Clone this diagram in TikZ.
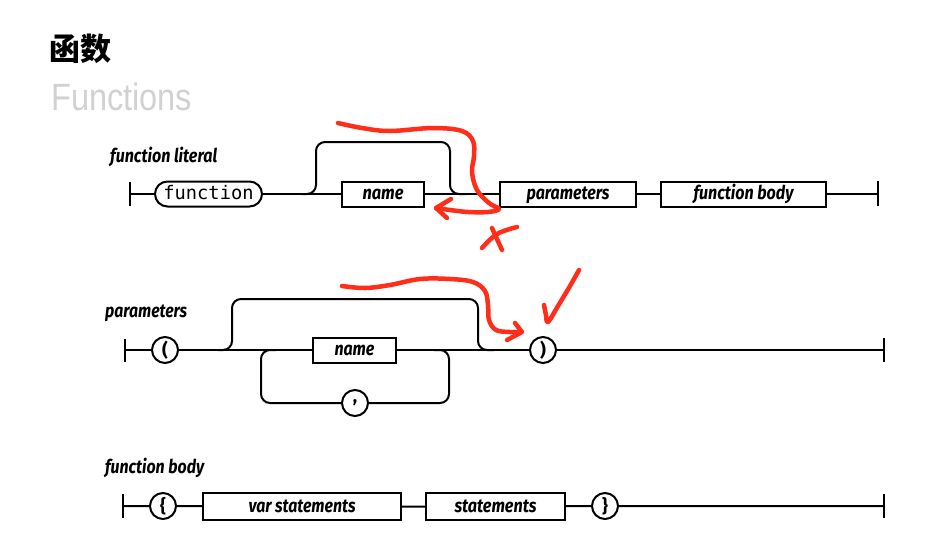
\documentclass[tikz,border=0pt]{standalone}
\usepackage{fontspec}
\usepackage{graphicx}
\setmainfont{Fira Sans}
\newfontfamily\cjkfont{Noto Sans CJK SC}
\newfontfamily\monofont{DejaVu Sans Mono}
\newfontfamily\lightfont{Liberation Sans}
\newcommand\fitw[2]{\resizebox{#1pt}{\height}{#2}}
\definecolor{annot}{RGB}{255,45,25}
\tikzset{
  rail/.style={line width=2pt, line join=round},
  nt/.style={draw, line width=2pt, rectangle, minimum height=25pt, inner sep=0pt,
     text height=14pt, text depth=3pt, font=\bfseries\itshape\fontsize{19}{19}\selectfont},
  kw/.style={draw, line width=2pt, rectangle, rounded corners=12.5pt, minimum height=25pt,
     inner sep=0pt, text height=13pt, text depth=3pt, font=\monofont\fontsize{18.7}{19}\selectfont},
  circ/.style={draw, circle, line width=2pt, minimum size=26pt, inner sep=0pt,
     font=\bfseries\fontsize{18}{18}\selectfont},
  lbl/.style={anchor=base west, inner sep=0pt, font=\bfseries\itshape\fontsize{19}{19}\selectfont},
  ink/.style={draw=annot, line width=4.5pt, line cap=round, line join=round}
}
\begin{document}
\begin{tikzpicture}[x=1pt,y=-1pt]
\useasboundingbox (0,0) rectangle (948,542);

% titles
\node[anchor=base west, inner sep=0pt, font=\cjkfont\bfseries\fontsize{31}{31}\selectfont] (t1) at (49,60) {函数};
\node[anchor=base west, inner sep=0pt, text=black!18, font=\lightfont\fontsize{38}{38}\selectfont] (t2) at (51,110) {\fitw{141}{Functions}};

% ---------- row 1: function literal ----------
\node[lbl] (l1) at (110,162) {\fitw{107}{function literal}};
\coordinate (b1) at (130,194);
\coordinate (e1) at (878,194);
\draw[rail] (130,182) -- (130,206);
\draw[rail] (878,181) -- (878,206);
\node[kw, minimum width=107pt] (fn) at (208.5,194) {function};
\node[nt, minimum width=82pt] (name1) at (383,194) {\fitw{41}{name}};
\node[nt, minimum width=136pt] (par1) at (568,194) {\fitw{83}{parameters}};
\node[nt, minimum width=165pt] (fb1) at (743.5,194) {\fitw{100}{function body}};
\draw[rail] (b1) -- (fn) -- (name1) -- (par1) -- (fb1) -- (e1);
\coordinate (s1) at (302,194);
\coordinate (u1) at (316,142);
\coordinate (v1) at (450,194);
\coordinate (w1) at (466,194);
\draw[rail, rounded corners=9pt] (s1) -| (u1) -| (v1) -- (w1);

% ---------- row 2: parameters ----------
\node[lbl] (l2) at (105,317) {\fitw{82}{parameters}};
\coordinate (b2) at (125,350);
\coordinate (e2) at (884,350);
\draw[rail] (125,339) -- (125,362);
\draw[rail] (884,338) -- (884,362);
\node[circ] (lp) at (165,350) {(};
\node[nt, minimum width=83pt] (name2) at (354.5,350) {\fitw{40}{name}};
\node[circ] (rp) at (543,350) {)};
\node[circ] (cm) at (355,403) {,};
\draw[rail] (b2) -- (lp) -- (name2) -- (rp) -- (e2);
\coordinate (s2) at (218,350);
\coordinate (u2) at (232,299);
\coordinate (v2) at (478,350);
\coordinate (w2) at (494,350);
\draw[rail, rounded corners=9pt] (s2) -| (u2) -| (v2) -- (w2);
\coordinate (p2) at (261,350);
\coordinate (q2) at (276,350);
\coordinate (m2) at (434,350);
\coordinate (n2) at (449,403);
\draw[rail, rounded corners=9pt] (cm.west) -| (p2) -- (q2);
\draw[rail, rounded corners=9pt] (m2) -| (n2) -- (cm.east);

% ---------- row 3: function body ----------
\node[lbl] (l3) at (105,473) {\fitw{99}{function body}};
\coordinate (b3) at (123,506);
\coordinate (e3) at (884,506);
\draw[rail] (123,494) -- (123,518);
\draw[rail] (884,494) -- (884,518);
\node[circ] (lb) at (163,506) {\{};
\node[nt, minimum width=198pt, minimum height=27pt] (vs) at (302,506.5) {\fitw{107}{var statements}};
\node[nt, minimum width=139pt, minimum height=27pt] (st) at (495.5,506.5) {\fitw{82}{statements}};
\node[circ] (rb) at (605,506) {\}};
\draw[rail] (b3) -- (lb) -- (vs) -- (st) -- (rb) -- (e3);

% ---------- red hand annotations ----------
\draw[ink] plot[smooth, tension=0.6] coordinates {(338,123) (362,128) (390,131) (433,128) (462,131) (473,141) (474,156) (472,172) (477,190) (489,203) (499,209) (488,212) (468,212) (450,210) (436,208)};
\draw[ink] (451,199) -- (436,208) -- (447,218);
\draw[ink] (492,228) -- (502,250);
\draw[ink] plot[smooth, tension=0.6] coordinates {(482,248) (497,234) (517,227)};

\draw[ink] plot[smooth, tension=0.6] coordinates {(342,286) (365,288) (390,285) (420,279) (450,279) (473,282) (485,291) (488,305) (489,320) (496,330) (510,332) (521,332)};
\draw[ink] (515,323) -- (522,332) -- (507,340);
\draw[ink] plot[smooth, tension=0.6] coordinates {(544,305) (546,315) (548,322) (558,306) (570,286) (579,270)};
\end{tikzpicture}
\end{document}
